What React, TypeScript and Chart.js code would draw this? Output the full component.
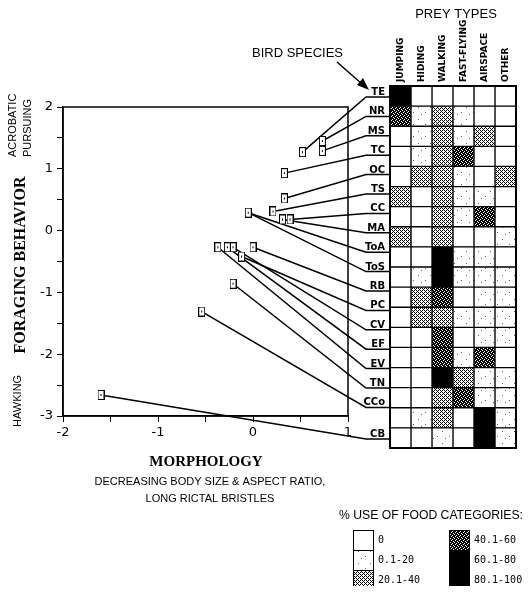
import React, { useEffect, useRef } from 'react';
import { Chart, registerables } from 'chart.js';

Chart.register(...registerables);

// ---------- DATA ----------
const species = ['TE', 'NR', 'MS', 'TC', 'OC', 'TS', 'CC', 'MA', 'ToA', 'ToS', 'RB', 'PC', 'CV', 'EF', 'EV', 'TN', 'CCo', 'CB'];
// morphology score (x) and foraging behavior score (y)
const morphology = [0.52, 0.73, 0.73, 0.33, 0.33, 0.21, 0.39, 0.31, -0.05, -0.05, 0.0, -0.12, -0.21, -0.27, -0.37, -0.21, -0.54, -1.6];
const foraging = [1.27, 1.45, 1.29, 0.93, 0.52, 0.31, 0.18, 0.18, 0.29, 0.29, -0.27, -0.42, -0.27, -0.27, -0.27, -0.86, -1.31, -2.66];

const preyTypes = ['JUMPING', 'HIDING', 'WALKING', 'FAST-FLYING', 'AIRSPACE', 'OTHER'];
// % use of each prey type, in species order
const jumping = [90, 50, 0, 0, 0, 30, 0, 30, 0, 0, 0, 0, 0, 0, 0, 0, 0, 0];
const hiding = [0, 10, 10, 10, 30, 0, 0, 0, 0, 10, 30, 30, 0, 0, 0, 0, 10, 0];
const walking = [0, 30, 30, 30, 30, 30, 30, 30, 90, 90, 50, 30, 50, 50, 90, 30, 30, 10];
const fastFlying = [0, 10, 10, 50, 10, 10, 10, 0, 10, 10, 0, 10, 0, 10, 30, 50, 0, 0];
const airspace = [0, 0, 30, 0, 0, 10, 50, 0, 10, 10, 10, 10, 10, 50, 10, 10, 90, 90];
const other = [0, 0, 0, 0, 30, 0, 0, 10, 0, 10, 10, 10, 10, 0, 10, 10, 10, 10];

const usageClasses = ['0', '0.1-20', '20.1-40', '40.1-60', '60.1-80', '80.1-100'];
const xTickLabels = [-2, -1, 0, 1];
const yTickLabels = [-3, -2, -1, 0, 1, 2];

// ---------- HELPERS ----------
function level(v: number) {
  if (v === 0) return 0;
  if (v <= 20) return 1;
  if (v <= 40) return 2;
  if (v <= 60) return 3;
  if (v <= 80) return 4;
  return 5;
}

function pattern(ctx: CanvasRenderingContext2D, rows: string[], fg: string) {
  const c = document.createElement('canvas');
  c.width = rows[0].length;
  c.height = rows.length;
  const g = c.getContext('2d')!;
  g.fillStyle = '#fff';
  g.fillRect(0, 0, c.width, c.height);
  g.fillStyle = fg;
  rows.forEach((r, y) => r.split('').forEach((ch, x) => { if (ch === '1') g.fillRect(x, y, 1, 1); }));
  return ctx.createPattern(c, 'repeat') as CanvasPattern;
}

function makeFills(ctx: CanvasRenderingContext2D): (string | CanvasPattern)[] {
  const sparse = [
    '000000000000', '000000000000', '000000000000', '001000000000', '000000000000', '000000000000',
    '000000000000', '000000000000', '000000000100', '000000000000', '000001000000', '000000000000',
  ];
  return [
    '#ffffff',
    pattern(ctx, sparse, '#666'),
    pattern(ctx, ['1010', '0001', '1010', '0100'], '#000'),
    pattern(ctx, ['1110', '1011', '1101', '0111'], '#000'),
    '#000000',
    '#000000',
  ];
}

function rotText(ctx: CanvasRenderingContext2D, text: string, x: number, y: number, align: CanvasTextAlign) {
  ctx.save();
  ctx.translate(x, y);
  ctx.rotate(-Math.PI / 2);
  ctx.textAlign = align;
  ctx.textBaseline = 'middle';
  ctx.fillText(text, 0, 0);
  ctx.restore();
}

function fitText(ctx: CanvasRenderingContext2D, text: string, x: number, y: number, maxW: number) {
  const w = ctx.measureText(text).width;
  const k = w > maxW ? maxW / w : 1;
  ctx.save();
  ctx.translate(x, y);
  ctx.scale(k, 1);
  ctx.fillText(text, 0, 0);
  ctx.restore();
}

export default function App() {
  const aRef = useRef<HTMLCanvasElement>(null);
  const bRef = useRef<HTMLCanvasElement>(null);

  useEffect(() => {
    const ca = aRef.current!;
    const cb = bRef.current!;
    const ctxA = ca.getContext('2d')!;
    const ctxB = cb.getContext('2d')!;
    const fillsA = makeFills(ctxA);
    const fillsB = makeFills(ctxB);
    const series = [jumping, hiding, walking, fastFlying, airspace, other];

    // ----- heat map of prey use -----
    const heat = new Chart(cb, {
      type: 'bar',
      data: {
        labels: species,
        datasets: preyTypes.map((p, c) => ({
          label: p,
          data: species.map(() => [c, c + 1]),
          backgroundColor: (cx: any) => (cx.dataIndex == null ? '#fff' : fillsB[level(series[c][cx.dataIndex])]),
          borderColor: '#000',
          borderWidth: 1,
          borderSkipped: false,
          grouped: false,
          barPercentage: 1,
          categoryPercentage: 1,
        })) as any,
      },
      options: {
        indexAxis: 'y',
        responsive: false,
        animation: false,
        devicePixelRatio: 1,
        events: [],
        layout: { padding: { left: 382, top: 78, right: 7, bottom: 138 } },
        scales: {
          x: { type: 'linear', min: 0, max: 6, display: false },
          y: { type: 'category', display: false },
        },
        plugins: { legend: { display: false }, tooltip: { enabled: false } },
      } as any,
      plugins: [
        {
          id: 'heatDecor',
          afterDraw(chart: any) {
            const ctx = chart.ctx;
            const a = chart.chartArea;
            ctx.save();
            ctx.strokeStyle = '#000';
            ctx.lineWidth = 2;
            ctx.strokeRect(a.left, a.top, a.right - a.left, a.bottom - a.top);
            ctx.fillStyle = '#000';
            ctx.font = 'bold 9px "DejaVu Sans"';
            preyTypes.forEach((p, c) => {
              const x = chart.scales.x.getPixelForValue(c + 0.5);
              rotText(ctx, p, x, a.top - 4, 'left');
            });
            ctx.font = '13px "Liberation Sans"';
            ctx.textAlign = 'center';
            ctx.textBaseline = 'middle';
            ctx.fillText('PREY TYPES', (a.left + a.right) / 2 + 3, 6);
            ctx.restore();
          },
        },
      ],
    });

    // ----- marker -----
    const marker = document.createElement('canvas');
    marker.width = 7;
    marker.height = 10;
    const mg = marker.getContext('2d')!;
    mg.fillStyle = '#000';
    mg.fillRect(0, 0, 7, 10);
    mg.fillStyle = '#fff';
    mg.fillRect(1, 1, 5, 8);
    mg.fillStyle = '#000';
    mg.fillRect(3, 4, 1, 2);

    const anchors = () => {
      const a = heat.chartArea;
      const rowH = (a.bottom - a.top) / species.length;
      return species.map((_, i) => (i < species.length - 1 ? a.top + 11 + i * 19.4 : a.top + (species.length - 1) * rowH + 11));
    };

    const decor = {
      id: 'decor',
      beforeDatasetsDraw(chart: any) {
        const ctx = chart.ctx;
        const ha = heat.chartArea;
        const anc = anchors();
        ctx.save();
        ctx.strokeStyle = '#000';
        ctx.lineWidth = 1.5;
        species.forEach((s, i) => {
          const px = chart.scales.x.getPixelForValue(morphology[i]);
          const py = chart.scales.y.getPixelForValue(foraging[i]);
          ctx.beginPath();
          ctx.moveTo(px, py);
          ctx.lineTo(ha.left - 24, anc[i]);
          ctx.lineTo(ha.left, anc[i]);
          ctx.stroke();
        });
        ctx.restore();
      },
      afterDraw(chart: any) {
        const ctx = chart.ctx;
        const a = chart.chartArea;
        const ha = heat.chartArea;
        const anc = anchors();
        ctx.save();
        ctx.strokeStyle = '#000';
        ctx.lineWidth = 1.5;
        ctx.strokeRect(a.left, a.top, a.right - a.left, a.bottom - a.top);

        ctx.fillStyle = '#000';
        // species labels
        ctx.font = 'bold 10px "DejaVu Sans"';
        ctx.textAlign = 'right';
        ctx.textBaseline = 'alphabetic';
        species.forEach((s, i) => ctx.fillText(s, ha.left - 5, anc[i] - 2));

        // bird species arrow
        ctx.font = '13px "Liberation Sans"';
        ctx.textAlign = 'left';
        ctx.textBaseline = 'middle';
        ctx.fillText('BIRD SPECIES', 244, 45);
        ctx.lineWidth = 1.5;
        ctx.beginPath();
        ctx.moveTo(329, 54);
        ctx.lineTo(354, 76);
        ctx.stroke();
        ctx.beginPath();
        ctx.moveTo(361, 82);
        ctx.lineTo(349, 77);
        ctx.lineTo(355, 70);
        ctx.closePath();
        ctx.fill();

        // axis titles
        ctx.font = 'bold 16px "Liberation Serif"';
        rotText(ctx, 'FORAGING BEHAVIOR', 13, 257, 'center');
        ctx.font = '11px "Liberation Sans"';
        rotText(ctx, 'ACROBATIC', 5, 149, 'left');
        rotText(ctx, 'PURSUING', 20, 149, 'left');
        rotText(ctx, 'HAWKING', 10, 419, 'left');

        ctx.textAlign = 'center';
        ctx.textBaseline = 'middle';
        ctx.font = 'bold 15px "Liberation Serif"';
        ctx.fillText('MORPHOLOGY', 198, 454);
        ctx.font = '11px "Liberation Sans"';
        ctx.fillText('DECREASING BODY SIZE & ASPECT RATIO,', 202, 474);
        ctx.fillText('LONG RICTAL BRISTLES', 202, 491);

        // legend
        ctx.textAlign = 'left';
        ctx.font = '13px "Liberation Sans"';
        fitText(ctx, '% USE OF FOOD CATEGORIES:', 331, 507, 184);
        ctx.font = '10px "DejaVu Sans Mono"';
        usageClasses.forEach((lab, k) => {
          const col = Math.floor(k / 3);
          const row = k % 3;
          const bx = col === 0 ? 345 : 441;
          const by = 522 + row * 20;
          ctx.fillStyle = fillsA[k];
          ctx.fillRect(bx, by, 20, 20);
          ctx.strokeStyle = '#000';
          ctx.lineWidth = 1;
          ctx.strokeRect(bx + 0.5, by + 0.5, 20, 20);
          ctx.fillStyle = '#000';
          ctx.fillText(lab, bx + 25, by + 10);
        });
        ctx.restore();
      },
    };

    const main = new Chart(ca, {
      type: 'scatter',
      data: {
        datasets: [
          {
            data: species.map((s, i) => ({ x: morphology[i], y: foraging[i] })),
            pointStyle: marker,
            pointRadius: 5,
            pointHoverRadius: 5,
            clip: false,
          } as any,
        ],
      },
      options: {
        responsive: false,
        animation: false,
        devicePixelRatio: 1,
        events: [],
        layout: { padding: { left: 0, top: 99, right: 175, bottom: 140 } },
        scales: {
          x: {
            type: 'linear',
            min: xTickLabels[0],
            max: xTickLabels[xTickLabels.length - 1],
            afterFit: (s: any) => { s.height = 30; },
            ticks: {
              stepSize: 0.5,
              autoSkip: false,
              maxRotation: 0,
              padding: 3,
              color: '#000',
              font: { family: '"DejaVu Sans"', size: 13 },
              callback: (v: any) => (xTickLabels.includes(Number(v)) ? String(v) : ''),
            },
            grid: { drawOnChartArea: false, tickLength: 6, tickColor: '#000', color: '#000' },
            border: { display: true, color: '#000', width: 1.5 },
          },
          y: {
            type: 'linear',
            min: yTickLabels[0],
            max: yTickLabels[yTickLabels.length - 1],
            afterFit: (s: any) => { s.width = 55; },
            ticks: {
              stepSize: 0.5,
              autoSkip: false,
              padding: 4,
              color: '#000',
              font: { family: '"DejaVu Sans"', size: 13 },
              callback: (v: any) => (yTickLabels.includes(Number(v)) ? String(v) : ''),
            },
            grid: { drawOnChartArea: false, tickLength: 6, tickColor: '#000', color: '#000' },
            border: { display: true, color: '#000', width: 1.5 },
          },
        },
        plugins: { legend: { display: false }, tooltip: { enabled: false } },
      } as any,
      plugins: [decor],
    });

    return () => {
      main.destroy();
      heat.destroy();
    };
  }, []);

  return (
    <div style={{ position: 'relative', width: 515, height: 578 }}>
      <canvas ref={aRef} width={515} height={578} style={{ position: 'absolute', left: 0, top: 0 }} />
      <canvas ref={bRef} width={515} height={578} style={{ position: 'absolute', left: 0, top: 0 }} />
    </div>
  );
}
